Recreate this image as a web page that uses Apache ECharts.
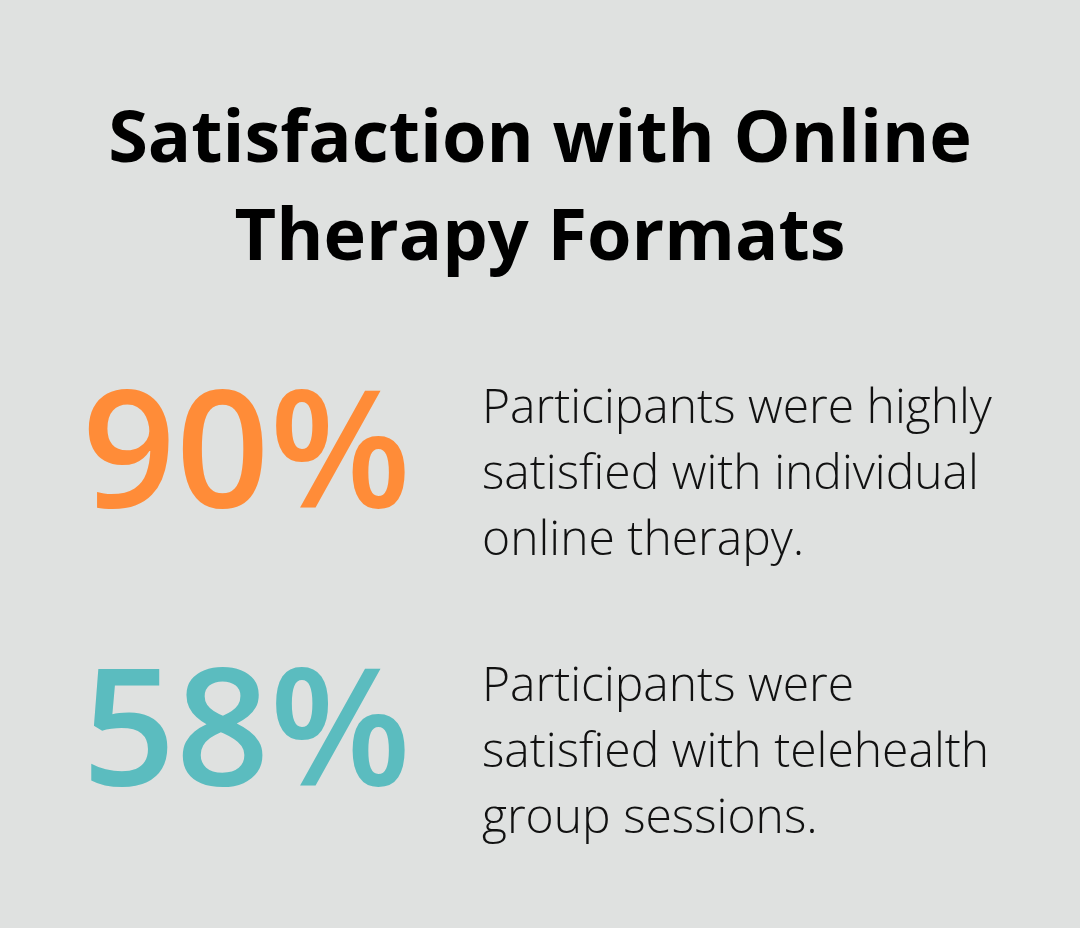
<!DOCTYPE html>
<html><head><meta charset="utf-8">
<script src="https://cdn.jsdelivr.net/npm/echarts@6/dist/echarts.min.js"></script>
<style>html,body{margin:0;padding:0;background:#dfe1e0}#c{width:1080px;height:928px}</style>
</head><body><div id="c"></div>
<script>
const titleLines = ["Satisfaction with Online", "Therapy Formats"];
const values = ["90%", "58%"];
const colors = ["#ff8c38", "#5bbcbf"];
const descriptions = [
  ["Participants were highly", "satisfied with individual", "online therapy."],
  ["Participants were", "satisfied with telehealth", "group sessions."]
];
const chart = echarts.init(document.getElementById('c'));
const els = [];
titleLines.forEach((t, i) => els.push({type:'text', left:'center', top:105 + i*98,
  style:{text:t, font:'bold 72px "Open Sans"', fill:'#000', textAlign:'center'}}));
values.forEach((v, i) => {
  const y0 = 378 + i*278;
  els.push({type:'text', left:82, top:y0, style:{text:v, font:'600 164px "Open Sans"', fill:colors[i]}});
  descriptions[i].forEach((d, j) => els.push({type:'text', left:482, top:y0 + 7 + j*66,
    style:{text:d, font:'300 48px "Open Sans"', fill:'#111'}}));
});
chart.setOption({backgroundColor:'#dfe1e0', graphic:els});
</script></body></html>
